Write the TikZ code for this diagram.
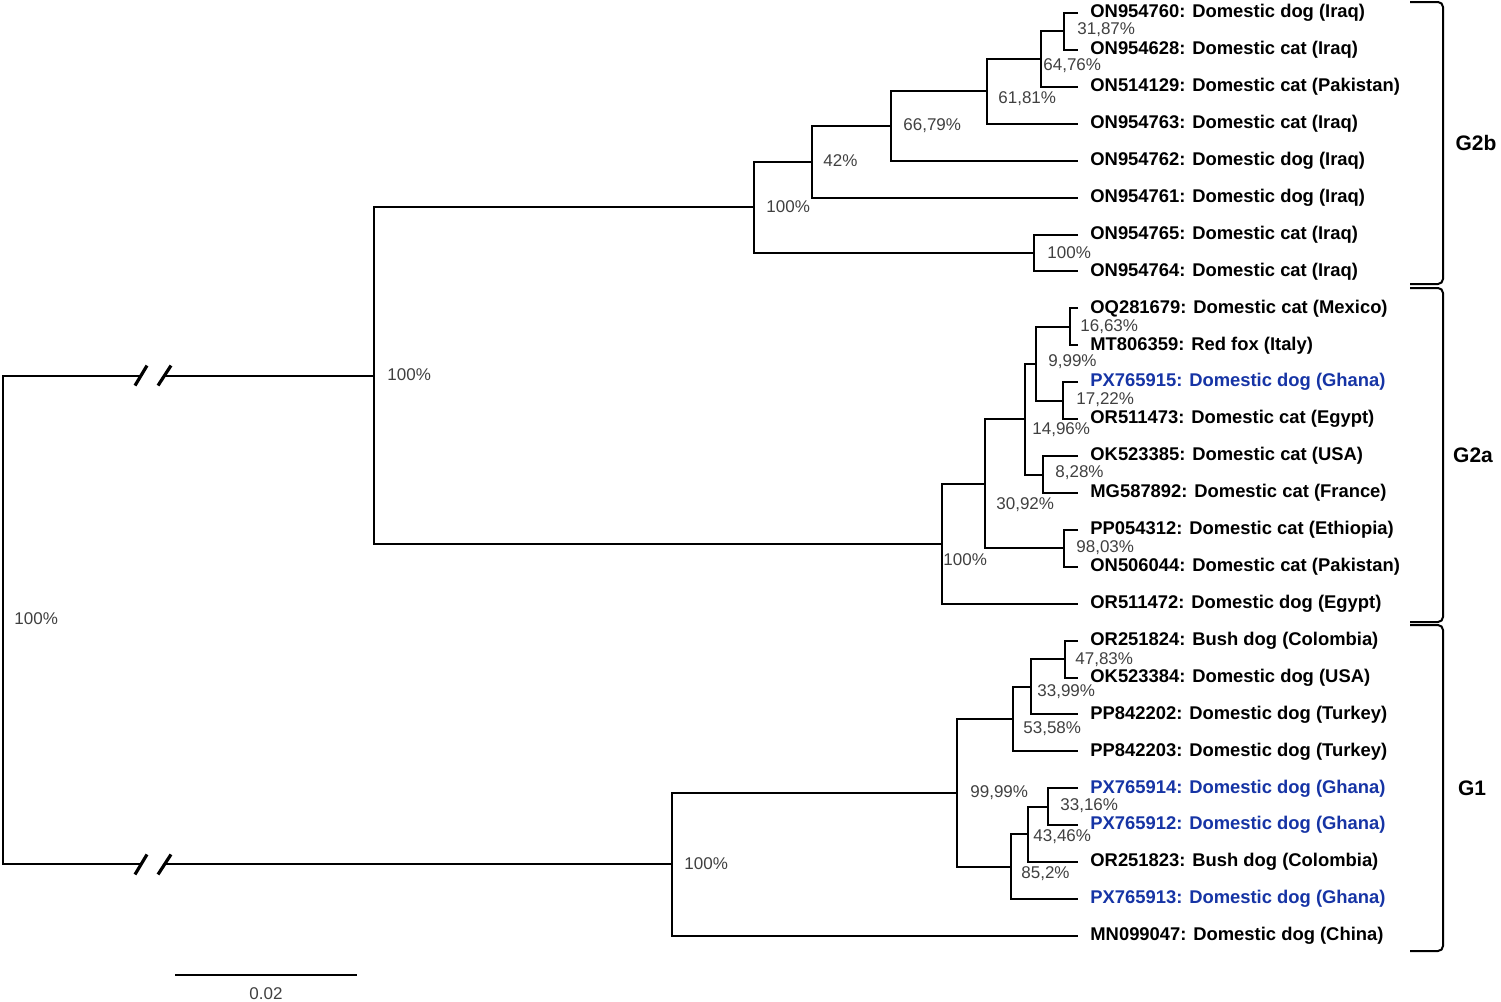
\documentclass[tikz,border=0pt]{standalone}
\usepackage{fontspec}
\setmainfont{Liberation Sans}
\definecolor{ghana}{RGB}{22,52,165}
\tikzset{
  branch/.style    = {line width=1pt},
  leaf/.style      = {anchor=west, inner xsep=6pt, inner ysep=1pt,
                      font=\fontsize{9.2}{11}\selectfont\bfseries},
  boot/.style      = {anchor=west, inner sep=0pt, text=black!75,
                      font=\fontsize{8.5}{10}\selectfont},
  clade/.style     = {line width=1pt, rounded corners=2.5pt},
  cladename/.style = {font=\fontsize{10.5}{12}\selectfont\bfseries},
  brk/.style       = {line width=1.6pt}
}

\begin{document}
\begin{tikzpicture}[x=0.5pt, y=-0.5pt]
  \useasboundingbox (0,0) rectangle (1501,1002);

  % leaves, top to bottom
  \foreach \n/\txt/\c in {
    1/ON954760: Domestic dog (Iraq)/black,
    2/ON954628: Domestic cat (Iraq)/black,
    3/ON514129: Domestic cat (Pakistan)/black,
    4/ON954763: Domestic cat (Iraq)/black,
    5/ON954762: Domestic dog (Iraq)/black,
    6/ON954761: Domestic dog (Iraq)/black,
    7/ON954765: Domestic cat (Iraq)/black,
    8/ON954764: Domestic cat (Iraq)/black,
    9/OQ281679: Domestic cat (Mexico)/black,
    10/MT806359: Red fox (Italy)/black,
    11/PX765915: Domestic dog (Ghana)/ghana,
    12/OR511473: Domestic cat (Egypt)/black,
    13/OK523385: Domestic cat (USA)/black,
    14/MG587892: Domestic cat (France)/black,
    15/PP054312: Domestic cat (Ethiopia)/black,
    16/ON506044: Domestic cat (Pakistan)/black,
    17/OR511472: Domestic dog (Egypt)/black,
    18/OR251824: Bush dog (Colombia)/black,
    19/OK523384: Domestic dog (USA)/black,
    20/PP842202: Domestic dog (Turkey)/black,
    21/PP842203: Domestic dog (Turkey)/black,
    22/PX765914: Domestic dog (Ghana)/ghana,
    23/PX765912: Domestic dog (Ghana)/ghana,
    24/OR251823: Bush dog (Colombia)/black,
    25/PX765913: Domestic dog (Ghana)/ghana,
    26/MN099047: Domestic dog (China)/black}
    \node[leaf, text=\c] (l\n) at (1078, {13+36.92*(\n-1)}) {\txt};

  % inner nodes
  \coordinate (A) at (1064, 31.45);
  \coordinate (B) at (1041, 59.1);
  \coordinate (C) at (987, 91.45);
  \coordinate (D) at (891, 126.1);
  \coordinate (E) at (812, 161.85);
  \coordinate (F) at (1034, 252.95);
  \coordinate (G) at (754, 207.4);
  \coordinate (I) at (1070, 326.85);
  \coordinate (J) at (1063, 400.65);
  \coordinate (K) at (1036, 363.75);
  \coordinate (M) at (1043, 474.5);
  \coordinate (L) at (1025, 419.1);
  \coordinate (O) at (1064, 548.35);
  \coordinate (N) at (985, 483.7);
  \coordinate (P) at (942, 543.7);
  \coordinate (H) at (374, 375.55);
  \coordinate (Q) at (1065, 659.05);
  \coordinate (R) at (1031, 686.8);
  \coordinate (S) at (1013, 719.1);
  \coordinate (T) at (1048, 806.75);
  \coordinate (U) at (1028, 834.4);
  \coordinate (V) at (1011, 866.7);
  \coordinate (W) at (957, 792.9);
  \coordinate (X) at (672, 864.45);
  \coordinate (Z) at (3, 620);

  % G2b
  \draw[branch] (l1.west) -| (A) |- (l2.west);
  \draw[branch] (A) -| (B) |- (l3.west);
  \draw[branch] (B) -| (C) |- (l4.west);
  \draw[branch] (C) -| (D) |- (l5.west);
  \draw[branch] (D) -| (E) |- (l6.west);
  \draw[branch] (l7.west) -| (F) |- (l8.west);
  \draw[branch] (E) -| (G) |- (F);
  % G2a
  \draw[branch] (l9.west) -| (I) |- (l10.west);
  \draw[branch] (l11.west) -| (J) |- (l12.west);
  \draw[branch] (I) -| (K) |- (J);
  \draw[branch] (l13.west) -| (M) |- (l14.west);
  \draw[branch] (K) -| (L) |- (M);
  \draw[branch] (l15.west) -| (O) |- (l16.west);
  \draw[branch] (L) -| (N) |- (O);
  \draw[branch] (N) -| (P) |- (l17.west);
  \draw[branch] (G) -| (H) |- (P);
  % G1
  \draw[branch] (l18.west) -| (Q) |- (l19.west);
  \draw[branch] (Q) -| (R) |- (l20.west);
  \draw[branch] (R) -| (S) |- (l21.west);
  \draw[branch] (l22.west) -| (T) |- (l23.west);
  \draw[branch] (T) -| (U) |- (l24.west);
  \draw[branch] (U) -| (V) |- (l25.west);
  \draw[branch] (S) -| (W) |- (V);
  \draw[branch] (W) -| (X) |- (l26.west);

  % root with broken branches
  \coordinate (bt1) at (140, 375.55);
  \coordinate (bt2) at (165, 375.55);
  \coordinate (bb1) at (140, 864.45);
  \coordinate (bb2) at (165, 864.45);
  \draw[branch] (bt1) -| (Z) |- (bb1);
  \draw[branch] (bt2) -- (H);
  \draw[branch] (bb2) -- (X);
  \foreach \b in {bt1, bb1}
    \draw[brk] ([shift={(-5,10)}]\b) -- ++(12,-20);
  \foreach \b in {bt2, bb2}
    \draw[brk] ([shift={(-7,10)}]\b) -- ++(13,-20);

  % bootstrap values
  \foreach \x/\y/\v [count=\k] in {
    1077/30/{31,87\%}, 1043/66/{64,76\%}, 998/99/{61,81\%},
    903/126/{66,79\%}, 823/161/{42\%}, 1047/253/{100\%},
    766/207/{100\%}, 387/375/{100\%},
    1080/327/{16,63\%}, 1048/362/{9,99\%}, 1076/400/{17,22\%},
    1032/430/{14,96\%}, 1055/473/{8,28\%}, 996/505/{30,92\%},
    1076/548/{98,03\%}, 943/560/{100\%}, 14/619/{100\%},
    1075/660/{47,83\%}, 1037/692/{33,99\%}, 1023/729/{53,58\%},
    970/793/{99,99\%}, 1060/806/{33,16\%}, 1033/837/{43,46\%},
    1021/874/{85,2\%}, 684/864/{100\%}}
    \node[boot] (bs\k) at (\x,\y) {\v};

  % clade brackets
  \draw[clade] (1410,2) -- (1443,2) -- (1443,284) -- (1410,284);
  \draw[clade] (1410,288) -- (1443,288) -- (1443,622) -- (1410,622);
  \draw[clade] (1410,625) -- (1443,625) -- (1443,951) -- (1410,951);
  \node[cladename] (g2b) at (1476,143) {G2b};
  \node[cladename] (g2a) at (1473,455) {G2a};
  \node[cladename] (g1) at (1472,788) {G1};

  % scale bar
  \coordinate (sbL) at (175,975);
  \coordinate (sbR) at (357,975);
  \draw[branch] (sbL) -- (sbR);
  \node[boot, anchor=center] (sbT) at (266,994) {0.02};
\end{tikzpicture}
\end{document}
